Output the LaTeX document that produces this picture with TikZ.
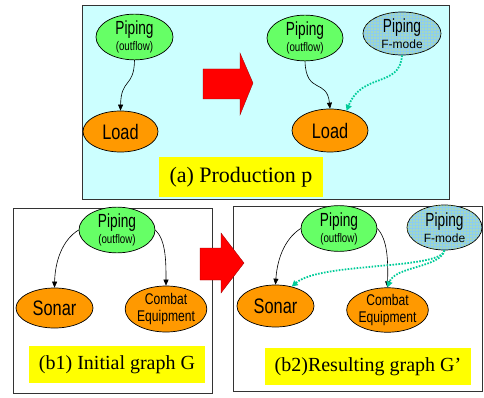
\documentclass[tikz,border=0pt]{standalone}
\usepackage{fontspec}
\setmainfont{Liberation Serif}
\newfontfamily\narrowsans[FakeStretch=0.78]{Liberation Sans}
\newfontfamily\narrowersans[FakeStretch=0.72]{Liberation Sans}
\newfontfamily\plainsans{Liberation Sans}
\usetikzlibrary{arrows.meta,shapes.geometric,patterns.meta}
\definecolor{boxcyan}{RGB}{204,255,255}
\definecolor{nodegreen}{RGB}{102,255,102}
\definecolor{nodeorange}{RGB}{255,153,0}
\definecolor{fmodeblue}{RGB}{140,205,240}
\definecolor{dotteal}{RGB}{0,204,153}
\definecolor{labelyellow}{RGB}{255,255,0}
\definecolor{arrowred}{RGB}{255,0,0}
\tikzset{
  ell/.style={ellipse, draw=black, line width=0.7pt, inner sep=0pt, align=center,
    font=\narrowsans, text=black},
  twoline/.style={font=\narrowersans\fontsize{19}{16}\selectfont},
  pipe/.style={ell, fill=nodegreen, twoline},
  fmode/.style={ell, fill=fmodeblue, twoline,
    postaction={pattern={Dots[distance=3pt,radius=0.6pt]}, pattern color=yellow!90!white}},
  target/.style={ell, fill=nodeorange},
  frame/.style={draw=black!80, line width=0.8pt},
  lab/.style={fill=labelyellow, inner sep=0pt, font=\fontsize{20}{22}\selectfont},
  conn/.style={draw=black, line width=0.6pt, -{Triangle[length=6pt,width=5pt]}},
  dconn/.style={draw=dotteal, line width=1.8pt, dash pattern=on 1.6pt off 1.4pt,
    -{Triangle[length=6pt,width=6pt]}},
  bigarrow/.style={fill=arrowred, draw=arrowred!60!black, line width=0.3pt},
}
\newcommand{\subout}{{\narrowsans\fontsize{12.5}{12}\selectfont (outflow)}}
\newcommand{\subfm}{{\plainsans\fontsize{12}{12}\selectfont F-mode}}
\begin{document}
\begin{tikzpicture}[x=1pt,y=-1pt]
\useasboundingbox (0,0) rectangle (484,398);
% ---- top box ----
\draw[frame, fill=boxcyan] (82,5) rectangle (449,199);
\node[pipe, minimum width=77pt, minimum height=40pt] (pA) at (134.5,37) {Piping\\\subout};
\node[target, minimum width=75pt, minimum height=41pt, font=\narrowsans\fontsize{21}{21}\selectfont] (lA) at (120.5,131.5) {Load};
\node[pipe, minimum width=76pt, minimum height=38pt] (pB) at (305,38) {Piping\\\subout};
\node[fmode, minimum width=78pt, minimum height=43pt] (fB) at (402,33.5) {Piping\\\subfm};
\node[target, minimum width=76pt, minimum height=43pt, font=\narrowsans\fontsize{21}{21}\selectfont] (lB) at (330,130.5) {Load};
\path[conn] (pA.south) .. controls (134,88) and (121,78) .. (lA.north);
\path[conn] (pB.south) .. controls (306,95) and (327,78) .. (lB.north);
\path[dconn] (fB.south) .. controls (400,88) and (362,72) .. (lB.50);
\draw[bigarrow] (203,69) -- (240,69) -- (240,53) -- (253,83) -- (240,115) -- (240,99) -- (203,99) -- cycle;
\node[lab, minimum width=164pt, minimum height=40pt, font=\fontsize{22}{24}\selectfont] (labA) at (241,177) {(a) Production p};
% ---- bottom left box ----
\draw[frame, fill=white] (13,208) rectangle (212,393);
\node[pipe, minimum width=76pt, minimum height=44pt] (pC) at (117,230) {Piping\\\subout};
\node[target, minimum width=77pt, minimum height=40pt, font=\narrowsans\fontsize{21}{21}\selectfont] (sC) at (54.5,308) {Sonar};
\node[target, minimum width=76pt, minimum height=46pt, font=\narrowsans\fontsize{15.5}{17}\selectfont] (cC) at (166,309) {Combat\\Equipment};
\node[lab, minimum width=176pt, minimum height=37pt] (labC) at (117,364.5) {(b1) Initial graph G};
\path[conn] (pC.west) .. controls (62,240) and (55,262) .. (sC.north);
\path[conn] (pC.east) .. controls (166,240) and (166,262) .. (cC.north);
% ---- bottom right box ----
\draw[frame, fill=white] (233,206) rectangle (482,391);
\node[pipe, minimum width=76pt, minimum height=43pt] (pD) at (339,228.5) {Piping\\\subout};
\node[fmode, minimum width=75pt, minimum height=45pt] (fD) at (444.5,227.5) {Piping\\\subfm};
\node[target, minimum width=77pt, minimum height=42pt, font=\narrowsans\fontsize{21}{21}\selectfont] (sD) at (275.5,306) {Sonar};
\node[target, minimum width=77pt, minimum height=44pt, font=\narrowsans\fontsize{15.5}{17}\selectfont] (cD) at (387.5,310) {Combat\\Equipment};
\node[lab, minimum width=206pt, minimum height=37pt] (labD) at (368,366.5) {(b2)Resulting graph G’};
\path[conn] (pD.west) .. controls (283,240) and (277,262) .. (sD.north);
\path[conn] (pD.east) .. controls (388,240) and (388,262) .. (cD.north);
\path[dconn] (fD.south) .. controls (440,270) and (320,262) .. (sD.50);
\path[dconn] (fD.south) .. controls (440,268) and (395,266) .. (cD.north);
% ---- middle red arrow ----
\draw[bigarrow] (200,248) -- (221,248) -- (221,233) -- (244,263) -- (221,293) -- (221,280) -- (200,280) -- cycle;
\end{tikzpicture}
\end{document}
